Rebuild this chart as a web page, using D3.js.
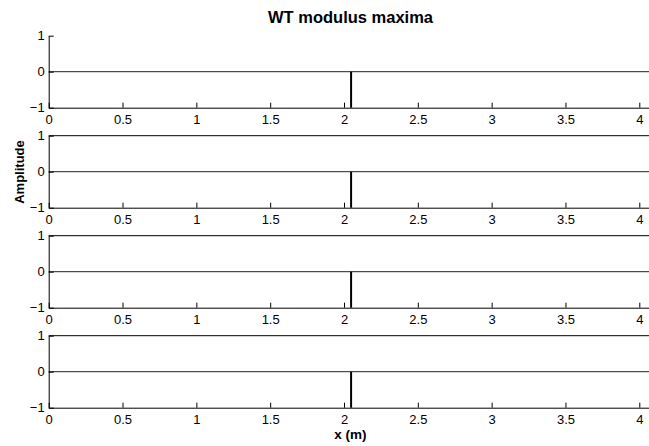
<!DOCTYPE html>
<html>
<head>
<meta charset="utf-8">
<script src="https://cdn.jsdelivr.net/npm/d3@7"></script>
<style>
  html, body { margin: 0; padding: 0; background: #fff; }
  svg { display: block; font-family: "Liberation Sans", Arial, Helvetica, sans-serif; }
</style>
</head>
<body>
<svg id="chart" width="649" height="446"></svg>
<script>
// ---- data ----
const title = "WT modulus maxima";
const yLabel = "Amplitude";
const xLabel = "x (m)";
const xDomain = [0, 4.096];
const xTicks = [0, 0.5, 1, 1.5, 2, 2.5, 3, 3.5, 4];
const yTicks = [-1, 0, 1];
// modulus maxima per scale (position in m, amplitude)
const maximaPos = [[2.048], [2.048], [2.048], [2.048]];
const maximaAmp = [[-1], [-1], [-1], [-1]];
const boxTop = [false, true, true, true];

// ---- layout ----
const svg = d3.select("#chart");
const left = 48.7, right = 48.7 + 4.096 * 147.65;
const firstTop = 35.7, step = 100, h = 72;

const x = d3.scaleLinear().domain(xDomain).range([left, right]);
const fmt = d => d === 0 ? "0" : (d < 0 ? "\u2212" + Math.abs(d) : String(d));
const FONT = "Liberation Sans, Arial, sans-serif";

maximaPos.forEach((pos, i) => {
  const top = firstTop + i * step;
  const y = d3.scaleLinear().domain([-1, 1]).range([top + h, top]);
  const g = svg.append("g");

  // zero baseline
  g.append("line")
    .attr("x1", x(xDomain[0])).attr("x2", x(xDomain[1]))
    .attr("y1", y(0)).attr("y2", y(0))
    .attr("stroke", "#222").attr("stroke-width", 1);

  // maxima stems
  g.selectAll("line.stem").data(pos.map((p, k) => ({p, a: maximaAmp[i][k]})))
    .enter().append("line").attr("class", "stem")
    .attr("x1", d => x(d.p)).attr("x2", d => x(d.p))
    .attr("y1", y(0)).attr("y2", d => y(d.a))
    .attr("stroke", "#000").attr("stroke-width", 2);

  // top box line
  if (boxTop[i]) {
    g.append("line")
      .attr("x1", x(xDomain[0])).attr("x2", x(xDomain[1]))
      .attr("y1", y(1)).attr("y2", y(1))
      .attr("stroke", "#000").attr("stroke-width", 1);
  }

  // x axis
  const xa = g.append("g").attr("transform", `translate(0,${y(-1)})`)
    .call(d3.axisBottom(x).tickValues(xTicks).tickSizeInner(-5).tickSizeOuter(0).tickPadding(7.5).tickFormat(fmt));
  xa.select(".domain").attr("stroke", "#000").attr("stroke-width", 1);
  xa.selectAll(".tick line").attr("stroke", "#000");
  xa.selectAll("text").attr("font-size", 13).attr("fill", "#000").attr("font-family", FONT);

  // y axis
  const ya = g.append("g").attr("transform", `translate(${left},0)`)
    .call(d3.axisLeft(y).tickValues(yTicks).tickSizeInner(-5).tickSizeOuter(0).tickPadding(4).tickFormat(fmt));
  ya.select(".domain").attr("stroke", "#000").attr("stroke-width", 1);
  ya.selectAll(".tick line").attr("stroke", "#000");
  ya.selectAll("text").attr("font-size", 13).attr("fill", "#000").attr("font-family", FONT);
});

// title
svg.append("text").attr("x", 350.5).attr("y", 23).attr("text-anchor", "middle")
  .attr("font-size", 16.5).attr("font-weight", "bold").text(title);

// y label
svg.append("text").attr("transform", "translate(23.5,172) rotate(-90)")
  .attr("text-anchor", "middle").attr("font-size", 13).attr("font-weight", "bold").text(yLabel);

// x label
svg.append("text").attr("x", 350.5).attr("y", 439).attr("text-anchor", "middle")
  .attr("font-size", 13.5).attr("font-weight", "bold").text(xLabel);
</script>
</body>
</html>
